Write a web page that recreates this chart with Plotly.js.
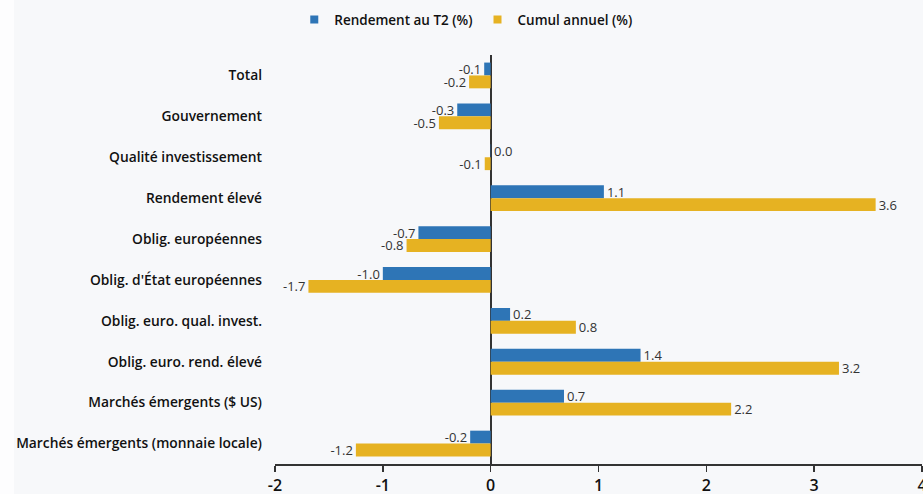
<!DOCTYPE html>
<html>
<head>
<meta charset="utf-8">
<script src="https://cdn.plot.ly/plotly-3.0.1.min.js"></script>
<style>
  html, body { margin: 0; padding: 0; background: #fdfdfe; }
  #chart { position: absolute; left: 14px; top: 0; width: 909px; height: 494px; }
</style>
</head>
<body>
<div id="chart"></div>
<script>
// Data
const categories = [
  "Total",
  "Gouvernement",
  "Qualité investissement",
  "Rendement élevé",
  "Oblig. européennes",
  "Oblig. d'État européennes",
  "Oblig. euro. qual. invest.",
  "Oblig. euro. rend. élevé",
  "Marchés émergents ($ US)",
  "Marchés émergents (monnaie locale)"
];
const seriesNames = ["Rendement au T2 (%)", "Cumul annuel (%)"];
const rendementT2 = [-0.06, -0.31, 0.004, 1.05, -0.67, -1.0, 0.18, 1.39, 0.68, -0.19];
const rendementT2Labels = ["-0.1", "-0.3", "0.0", "1.1", "-0.7", "-1.0", "0.2", "1.4", "0.7", "-0.2"];
const cumulAnnuel = [-0.2, -0.48, -0.055, 3.57, -0.78, -1.69, 0.79, 3.23, 2.23, -1.25];
const cumulAnnuelLabels = ["-0.2", "-0.5", "-0.1", "3.6", "-0.8", "-1.7", "0.8", "3.2", "2.2", "-1.2"];
const xTickVals = [-2, -1, 0, 1, 2, 3, 4];
const xTickText = ["-2", "-1", "0", "1", "2", "3", "4"];

const FONT = "'Open Sans', sans-serif";
const BLUE = "#2e75b6", YELLOW = "#e6b222";

function barTrace(name, x, text, color) {
  return {
    type: "bar", orientation: "h", name: name,
    y: categories, x: x, text: text,
    textposition: "outside", cliponaxis: false, constraintext: "none",
    textfont: { family: FONT, size: 13, color: "#333333" },
    marker: { color: color }, showlegend: false
  };
}
function legendTrace(name, color) {
  return {
    type: "scatter", mode: "markers", name: name, x: [null], y: [null],
    marker: { symbol: "square", size: 8, color: color }, showlegend: true
  };
}

const traces = [
  barTrace(seriesNames[0], rendementT2, rendementT2Labels, BLUE),
  barTrace(seriesNames[1], cumulAnnuel, cumulAnnuelLabels, YELLOW),
  legendTrace(seriesNames[0], BLUE),
  legendTrace(seriesNames[1], YELLOW)
];

const layout = {
  width: 909, height: 494,
  paper_bgcolor: "#f7f8fa", plot_bgcolor: "#f7f8fa",
  margin: { l: 261, r: 1, t: 55, b: 30, pad: 0 },
  barmode: "group", bargap: 0.37, bargroupgap: 0,
  font: { family: FONT, size: 13, color: "#111111" },
  showlegend: true,
  legend: {
    orientation: "h", xref: "container", yref: "container",
    x: 0.497, xanchor: "center", y: 0.96, yanchor: "middle",
    font: { family: FONT, size: 13.5, color: "#111111", weight: 600 },
    itemwidth: 30, tracegroupgap: 0, bgcolor: "rgba(0,0,0,0)"
  },
  xaxis: {
    range: [-2, 4], tickvals: xTickVals, ticktext: xTickText,
    showgrid: false, zeroline: true, zerolinecolor: "#333333", zerolinewidth: 2,
    showline: true, linecolor: "#333333", linewidth: 1.5,
    ticks: "outside", ticklen: 6, tickwidth: 1.5, tickcolor: "#333333",
    ticklabeloverflow: "allow",
    tickfont: { family: FONT, size: 16, color: "#111111", weight: 600 },
    fixedrange: true
  },
  yaxis: {
    autorange: "reversed", showgrid: false, zeroline: false, showline: false,
    ticks: "", ticklabelstandoff: 12,
    tickfont: { family: FONT, size: 13.8, color: "#111111", weight: 600 },
    fixedrange: true
  }
};

Plotly.newPlot("chart", traces, layout, { displayModeBar: false, staticPlot: true });
</script>
</body>
</html>
